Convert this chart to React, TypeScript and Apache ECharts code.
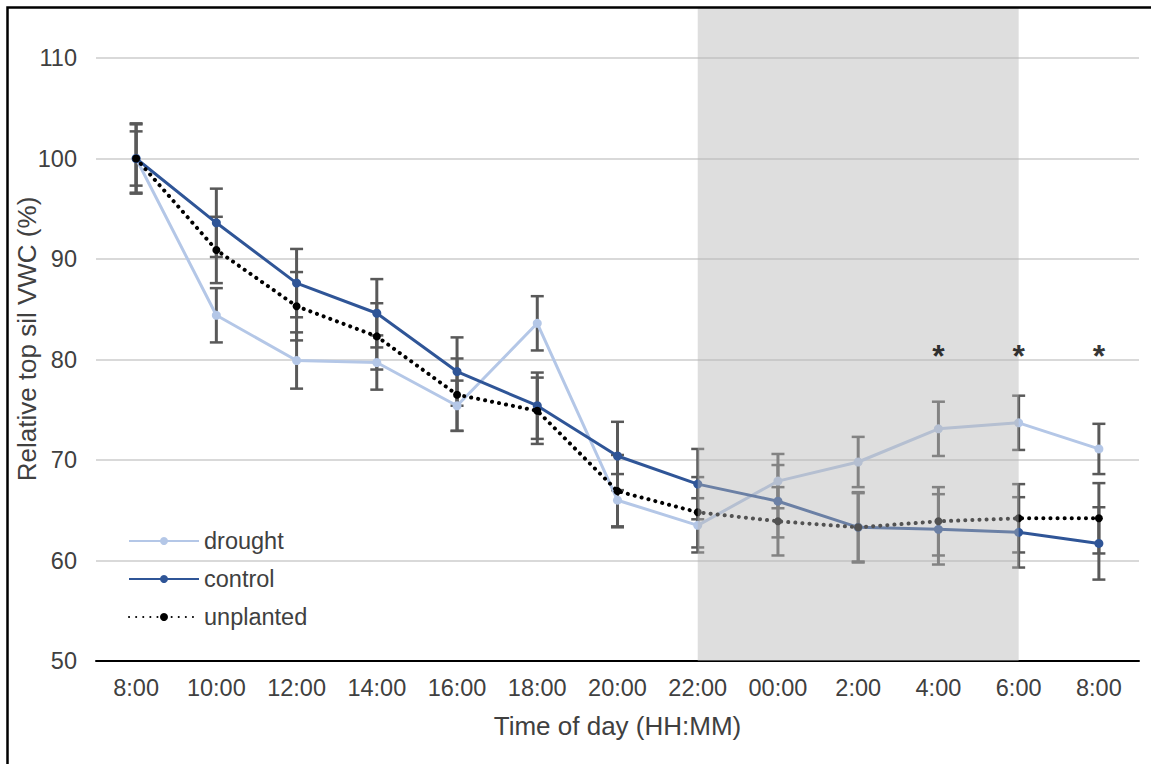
import React, { useEffect, useRef } from "react";
import * as echarts from "echarts";

const categories = ["8:00", "10:00", "12:00", "14:00", "16:00", "18:00", "20:00", "22:00", "00:00", "2:00", "4:00", "6:00", "8:00"];
const drought = [100, 84.4, 79.9, 79.7, 75.4, 83.6, 66.0, 63.5, 67.9, 69.8, 73.1, 73.7, 71.1];
const droughtErr = [2.7, 2.7, 2.8, 2.7, 2.5, 2.7, 2.6, 2.7, 2.7, 2.5, 2.7, 2.7, 2.5];
const control = [100, 93.6, 87.6, 84.6, 78.8, 75.4, 70.4, 67.6, 65.9, 63.3, 63.1, 62.8, 61.7];
const controlErr = [3.4, 3.4, 3.4, 3.4, 3.4, 3.3, 3.4, 3.5, 3.6, 3.5, 3.5, 3.5, 3.6];
const unplanted = [100, 90.9, 85.3, 82.3, 76.5, 74.9, 66.9, 64.8, 63.9, 63.3, 63.9, 64.2, 64.2];
const unplantedErr = [3.5, 3.3, 3.4, 3.3, 3.6, 3.3, 3.6, 3.5, 3.4, 3.4, 3.4, 3.4, 3.5];
const significant = [false, false, false, false, false, false, false, false, false, false, true, true, true];
const significanceLevel = 80.3;
const nightStartIndex = 7; // 22:00
const nightEndIndex = 11; // 6:00
const yMin = 50;
const yMax = 110;
const yInterval = 10;

const FONT = "'Liberation Sans', Arial, sans-serif";
const TEXT = "#404040";
const FRAME_INSET = 7.5;

function errorSeries(name: string, values: number[], errs: number[]) {
  return {
    name: name + " error",
    type: "custom",
    z: 1,
    silent: true,
    data: values.map((v, i) => [i, v - errs[i], v + errs[i]]),
    encode: { x: 0, y: [1, 2] },
    renderItem: (params: any, api: any) => {
      const i = api.value(0);
      const lo = api.coord([i, api.value(1)]);
      const hi = api.coord([i, api.value(2)]);
      const hw = 6.5;
      const style = { stroke: "#595959", lineWidth: 3 };
      return {
        type: "group",
        children: [
          { type: "line", shape: { x1: lo[0], y1: lo[1], x2: hi[0], y2: hi[1] }, style },
          { type: "line", shape: { x1: lo[0] - hw, y1: lo[1], x2: lo[0] + hw, y2: lo[1] }, style: { stroke: "#595959", lineWidth: 2.5 } },
          { type: "line", shape: { x1: hi[0] - hw, y1: hi[1], x2: hi[0] + hw, y2: hi[1] }, style: { stroke: "#595959", lineWidth: 2.5 } },
        ],
      };
    },
  };
}

export default function App() {
  const ref = useRef<HTMLDivElement>(null);
  useEffect(() => {
    if (!ref.current) return;
    const chart = echarts.init(ref.current, null, { renderer: "svg" });
    const option: any = {
      animation: false,
      backgroundColor: "#ffffff",
      textStyle: { fontFamily: FONT },
      grid: { left: 96, right: 12, top: 58, bottom: 103 },
      legend: {
        orient: "vertical",
        left: 128,
        top: 529,
        padding: 0,
        itemWidth: 70,
        itemHeight: 10,
        itemGap: 14,
        data: ["drought", "control", "unplanted"],
        textStyle: { fontSize: 23.5, color: TEXT, fontFamily: FONT },
      },
      graphic: [
        {
          type: "rect",
          silent: true,
          z: 100,
          shape: { x: FRAME_INSET, y: FRAME_INSET, width: 1200, height: 800 },
          style: { fill: "none", stroke: "#000", lineWidth: 2.5 },
        },
        {
          type: "text",
          silent: true,
          x: 27,
          y: 339,
          rotation: Math.PI / 2,
          style: {
            text: "Relative top sil VWC (%)",
            fontSize: 26,
            fontFamily: FONT,
            fill: TEXT,
            align: "center",
            verticalAlign: "middle",
          },
        },
      ],
      xAxis: {
        type: "category",
        data: categories,
        boundaryGap: true,
        name: "Time of day (HH:MM)",
        nameLocation: "middle",
        nameGap: 52,
        nameTextStyle: { fontSize: 26, color: TEXT, fontFamily: FONT },
        axisLine: { lineStyle: { color: "#000", width: 2 } },
        axisTick: { alignWithLabel: true, length: 6, lineStyle: { color: "#000", width: 2 } },
        axisLabel: { fontSize: 23.5, color: TEXT, margin: 15, fontFamily: FONT, interval: 0 },
        splitLine: { show: false },
      },
      yAxis: {
        type: "value",
        min: yMin,
        max: yMax,
        interval: yInterval,
        axisLine: { show: false },
        axisTick: { show: false },
        axisLabel: { fontSize: 23.5, color: TEXT, margin: 19, fontFamily: FONT },
        splitLine: { lineStyle: { color: "#d9d9d9", width: 2 } },
      },
      series: [
        errorSeries("drought", drought, droughtErr),
        errorSeries("control", control, controlErr),
        errorSeries("unplanted", unplanted, unplantedErr),
        {
          name: "drought",
          type: "line",
          z: 3,
          data: drought,
          symbol: "circle",
          symbolSize: 9,
          lineStyle: { color: "#b4c7e7", width: 3 },
          itemStyle: { color: "#b4c7e7" },
        },
        {
          name: "control",
          type: "line",
          z: 4,
          data: control,
          symbol: "circle",
          symbolSize: 9,
          lineStyle: { color: "#2f5597", width: 3 },
          itemStyle: { color: "#2f5597" },
        },
        {
          name: "unplanted",
          type: "line",
          z: 5,
          data: unplanted,
          symbol: "circle",
          symbolSize: 8,
          lineStyle: { color: "#000000", width: 4, type: [0.1, 7], cap: "round" },
          itemStyle: { color: "#000000" },
        },
        {
          name: "night",
          type: "custom",
          z: 10,
          silent: true,
          clip: false,
          data: [[nightStartIndex, nightEndIndex]],
          encode: { x: [0, 1] },
          renderItem: (params: any, api: any) => {
            const p0 = api.coord([api.value(0), yMin]);
            const p1 = api.coord([api.value(1), yMin]);
            return {
              type: "rect",
              shape: { x: p0[0], y: FRAME_INSET, width: p1[0] - p0[0], height: p0[1] - FRAME_INSET },
              style: { fill: "rgba(182,182,182,0.45)" },
            };
          },
        },
        {
          name: "significance",
          type: "scatter",
          z: 20,
          silent: true,
          symbolSize: 1,
          itemStyle: { color: "transparent" },
          data: significant.map((s, i) => (s ? [i, significanceLevel] : null)).filter((d) => d !== null),
          label: {
            show: true,
            position: "inside",
            formatter: "*",
            fontSize: 32,
            fontWeight: "bold",
            color: "#000",
            fontFamily: FONT,
          },
        },
      ],
    };
    chart.setOption(option);
    return () => chart.dispose();
  }, []);
  return (
    <div
      ref={ref}
      style={{ position: "fixed", left: 0, top: 0, width: 1151, height: 764, background: "#fff" }}
    />
  );
}
